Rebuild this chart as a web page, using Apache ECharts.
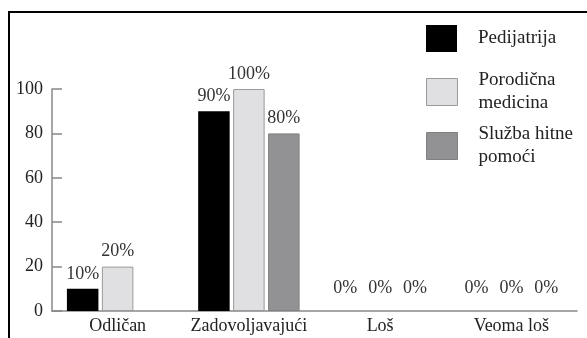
<!DOCTYPE html>
<html>
<head>
<meta charset="utf-8">
<script src="https://cdn.jsdelivr.net/npm/echarts@6/dist/echarts.min.js"></script>
<style>
  html, body { margin: 0; padding: 0; background: #fff; }
  #chart { width: 587px; height: 338px; }
</style>
</head>
<body>
<div id="chart"></div>
<script>
  var categories = ['Odličan', 'Zadovoljavajući', 'Loš', 'Veoma loš'];
  var seriesNames = ['Pedijatrija', 'Porodična\nmedicina', 'Služba hitne\npomoći'];
  var pedijatrija = [10, 90, 0, 0];
  var porodicna = [20, 100, 0, 0];
  var hitna = [null, 80, 0, 0];
  var yTicks = [0, 20, 40, 60, 80, 100];

  var font = '"Liberation Serif", "DejaVu Serif", serif';
  var colors = ['#000000', '#e0e0e2', '#929294'];
  var borders = ['#000000', '#9a9a9a', '#808082'];
  var legendTops = [25, 69, 123];

  // zero values get a bit more room above the axis, like in the original
  function makeData(values, i) {
    return values.map(function (v) {
      if (v === null) return '-';
      return {
        value: v,
        itemStyle: { borderWidth: (v === 0 || i === 0) ? 0 : 1 },
        label: { distance: v === 0 ? 14 : 6 }
      };
    });
  }

  function makeSeries(name, values, i) {
    return {
      name: name,
      type: 'bar',
      barWidth: '24%',
      barGap: '11%',
      data: makeData(values, i),
      itemStyle: {
        color: colors[i],
        borderColor: borders[i],
        borderWidth: i === 0 ? 0 : 1
      },
      label: {
        show: true,
        position: 'top',
        formatter: '{c}%',
        fontFamily: font,
        fontSize: 18,
        color: '#333'
      }
    };
  }

  var allValues = [pedijatrija, porodicna, hitna];

  var option = {
    animation: false,
    grid: { left: 52, right: 10, top: 89, bottom: 27 },
    legend: seriesNames.map(function (n, i) {
      return {
        data: [n],
        left: 426,
        top: legendTops[i],
        padding: 0,
        itemWidth: 31,
        itemHeight: 27,
        icon: 'rect',
        selectedMode: false,
        itemStyle: {
          color: colors[i],
          borderColor: borders[i],
          borderWidth: i === 0 ? 0 : 1
        },
        textStyle: {
          fontFamily: font,
          fontSize: 19,
          lineHeight: 23,
          color: '#222',
          padding: [0, 0, 0, 16]
        }
      };
    }),
    xAxis: {
      type: 'category',
      data: categories,
      axisLine: { lineStyle: { color: '#888', width: 1.5 } },
      axisTick: { inside: true, length: 5, lineStyle: { color: '#888', width: 1.5 } },
      axisLabel: { interval: 0, fontFamily: font, fontSize: 18, color: '#222', margin: 6 }
    },
    yAxis: {
      type: 'value',
      min: yTicks[0],
      max: yTicks[yTicks.length - 1],
      interval: yTicks[1] - yTicks[0],
      splitLine: { show: false },
      axisLine: { show: true, lineStyle: { color: '#888', width: 1.5 } },
      axisTick: { show: true, inside: true, length: 10, lineStyle: { color: '#888', width: 1.5 } },
      axisLabel: { fontFamily: font, fontSize: 18, color: '#222', margin: 9 }
    },
    graphic: [{
      type: 'polyline',
      shape: { points: [[9, 338], [9, 12], [587, 12]] },
      style: { stroke: '#000', lineWidth: 2, fill: null },
      z: 10
    }],
    series: seriesNames.map(function (n, i) {
      return makeSeries(n, allValues[i], i);
    })
  };

  var myChart = echarts.init(document.getElementById('chart'));
  myChart.setOption(option);
</script>
</body>
</html>
